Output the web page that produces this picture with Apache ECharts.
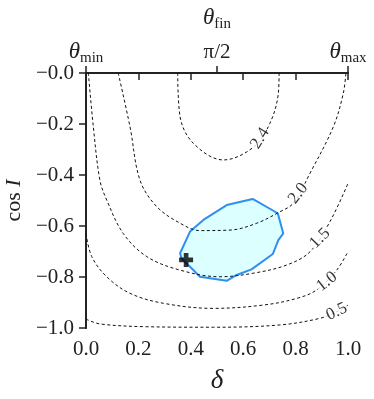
<!DOCTYPE html>
<html>
<head>
<meta charset="utf-8">
<script src="https://cdn.jsdelivr.net/npm/echarts@6/dist/echarts.min.js"></script>
<style>
  html, body { margin: 0; padding: 0; background: #fff; }
  #chart { width: 374px; height: 399px; }
</style>
</head>
<body>
<div id="chart"></div>
<script>
// contour levels and their lines [delta, cos I]
var levels = ['2.4', '2.0', '1.5', '1.0', '0.5'];
var c24 = [[0.35, 0], [0.359, -0.171], [0.41, -0.276], [0.524, -0.341], [0.639, -0.291], [0.702, -0.197], [0.734, -0.080], [0.737, 0]];
var c20 = [[0.123, 0], [0.168, -0.211], [0.206, -0.42], [0.27, -0.524], [0.359, -0.589], [0.435, -0.618], [0.55, -0.616], [0.652, -0.589], [0.74, -0.544], [0.791, -0.511], [0.855, -0.393], [0.944, -0.211], [0.982, -0.080], [0.992, 0]];
var c15 = [[0.009, 0], [0.028, -0.211], [0.053, -0.42], [0.079, -0.498], [0.142, -0.629], [0.232, -0.72], [0.359, -0.773], [0.511, -0.799], [0.639, -0.785], [0.766, -0.753], [0.855, -0.701], [0.931, -0.583], [1.0, -0.433]];
var c10 = [[0.0, -0.63], [0.022, -0.72], [0.079, -0.799], [0.168, -0.864], [0.295, -0.903], [0.486, -0.923], [0.677, -0.91], [0.804, -0.884], [0.88, -0.851], [0.957, -0.773], [1.0, -0.70]];
var c05 = [[0.0, -0.965], [0.053, -0.984], [0.232, -0.995], [0.486, -0.997], [0.74, -0.988], [0.893, -0.962], [0.957, -0.936], [1.0, -0.91]];
// label spots [delta, cos I] and angle
var labelPos = [[0.664, -0.256], [0.81, -0.472], [0.893, -0.648], [0.919, -0.818], [0.957, -0.936]];
var labelAngle = [58, 52, 45, 38, 25];
// shaded region outline
var region = [[0.359, -0.707], [0.397, -0.622], [0.448, -0.576], [0.537, -0.518], [0.636, -0.494], [0.732, -0.550], [0.753, -0.629], [0.734, -0.655], [0.713, -0.71], [0.632, -0.770], [0.575, -0.792], [0.537, -0.815], [0.435, -0.799], [0.397, -0.76], [0.365, -0.727]];
var best = [[0.382, -0.733]];
var topTicks = { 0: '{t|θ}{s|min}', 0.5: '{p|π/2}', 1: '{t|θ}{s|max}' };

var serif = 'Liberation Serif, DejaVu Serif, serif';
var axisColor = '#222';
var chart = echarts.init(document.getElementById('chart'));

var contourSeries = [c24, c20, c15, c10, c05].map(function (d) {
  return {
    type: 'line', data: d, smooth: 0.35, symbol: 'none', z: 3,
    lineStyle: { color: '#111', width: 1, type: [3, 2.5] }
  };
});

var subRich = {
  t: { fontFamily: serif, fontSize: 23, fontStyle: 'italic', color: axisColor, verticalAlign: 'bottom' },
  s: { fontFamily: serif, fontSize: 15, color: axisColor, verticalAlign: 'bottom', padding: [0, 0, -3, 0] },
  p: { fontFamily: serif, fontSize: 21, color: axisColor, verticalAlign: 'bottom' }
};

chart.setOption({
  animation: false,
  grid: { left: 86, right: 26, top: 73, bottom: 71, show: false, containLabel: false, outerBoundsMode: 'none' },
  xAxis: [{
    type: 'value', min: 0, max: 1, interval: 0.2, position: 'bottom',
    name: 'δ', nameLocation: 'middle', nameGap: 39,
    nameTextStyle: { fontFamily: serif, fontSize: 27, fontStyle: 'italic', color: axisColor },
    axisLine: { show: true, lineStyle: { color: axisColor, width: 1.8 } },
    axisTick: { show: true, length: 7, lineStyle: { color: axisColor, width: 1.5 } },
    axisLabel: { fontFamily: serif, fontSize: 21, color: axisColor, margin: 11,
      formatter: function (v) { return v.toFixed(1); } },
    splitLine: { show: false }
  }, {
    type: 'value', min: 0, max: 1, interval: 0.5, position: 'top',
    name: '{t|θ}{s|fin}', nameLocation: 'middle', nameGap: 44,
    nameTextStyle: { rich: subRich },
    axisLine: { show: true, lineStyle: { color: axisColor, width: 1.8 } },
    axisTick: { show: true, length: 7, lineStyle: { color: axisColor, width: 1.5 } },
    axisLabel: { margin: 10, formatter: function (v) { return topTicks[v] || ''; }, rich: subRich },
    splitLine: { show: false }
  }],
  yAxis: [{
    type: 'value', min: -1, max: 0, interval: 0.2, position: 'left',
    name: '{a|cos }{b|I}', nameLocation: 'middle', nameGap: 54, nameRotate: 90,
    nameTextStyle: { rich: {
      a: { fontFamily: serif, fontSize: 22, color: axisColor },
      b: { fontFamily: serif, fontSize: 22, fontStyle: 'italic', color: axisColor }
    } },
    axisLine: { show: true, lineStyle: { color: axisColor, width: 1.8 } },
    axisTick: { show: true, length: 7, lineStyle: { color: axisColor, width: 1.5 } },
    axisLabel: { fontFamily: serif, fontSize: 21, color: axisColor, margin: 12,
      formatter: function (v) { return '\u2212' + Math.abs(v).toFixed(1); } },
    splitLine: { show: false }
  }, {
    type: 'value', min: -1, max: 0, position: 'right',
    axisLine: { show: true, lineStyle: { color: axisColor, width: 1.8 } },
    axisTick: { show: false }, axisLabel: { show: false }, splitLine: { show: false }
  }],
  series: [{
    type: 'custom', z: 1, data: [0],
    renderItem: function (params, api) {
      return {
        type: 'polygon',
        shape: { points: region.map(function (p) { return api.coord(p); }) },
        style: { fill: '#dcffff', stroke: '#2f8ff0', lineWidth: 2, lineJoin: 'round' }
      };
    }
  }].concat(contourSeries).concat([{
    type: 'scatter', z: 4, symbolSize: 0,
    data: labelPos.map(function (p, i) {
      return { value: p, label: { rotate: labelAngle[i], formatter: levels[i] } };
    }),
    label: { show: true, position: 'inside', fontFamily: serif, fontSize: 17, color: '#000',
      backgroundColor: '#fff', padding: [0, 1] }
  }, {
    type: 'scatter', z: 5, data: best, symbolSize: 14,
    symbol: 'path://M-1,-3H1V-1H3V1H1V3H-1V1H-3V-1H-1Z',
    itemStyle: { color: '#000' }
  }])
});

window.addEventListener('resize', function () {
  chart.resize();
});
</script>
</body>
</html>
